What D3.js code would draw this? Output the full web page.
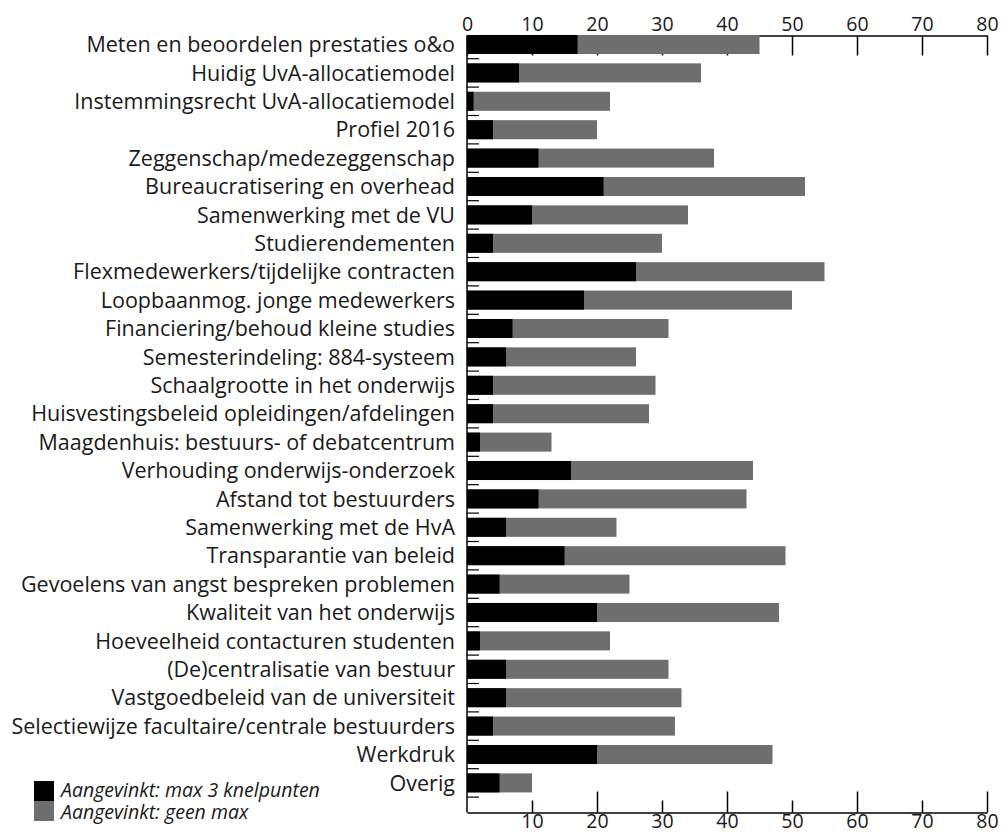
<!DOCTYPE html>
<html>
<head>
<meta charset="utf-8">
<script src="https://cdn.jsdelivr.net/npm/d3@7"></script>
<style>
  body { margin: 0; background: #fff; }
  svg text { font-family: "Open Sans", sans-serif; fill: #1a1a1a; }
</style>
</head>
<body>
<div id="chart"></div>
<script>
// categories, top to bottom
const categories = [
  'Meten en beoordelen prestaties o&o',
  'Huidig UvA-allocatiemodel',
  'Instemmingsrecht UvA-allocatiemodel',
  'Profiel 2016',
  'Zeggenschap/medezeggenschap',
  'Bureaucratisering en overhead',
  'Samenwerking met de VU',
  'Studierendementen',
  'Flexmedewerkers/tijdelijke contracten',
  'Loopbaanmog. jonge medewerkers',
  'Financiering/behoud kleine studies',
  'Semesterindeling: 884-systeem',
  'Schaalgrootte in het onderwijs',
  'Huisvestingsbeleid opleidingen/afdelingen',
  'Maagdenhuis: bestuurs- of debatcentrum',
  'Verhouding onderwijs-onderzoek',
  'Afstand tot bestuurders',
  'Samenwerking met de HvA',
  'Transparantie van beleid',
  'Gevoelens van angst bespreken problemen',
  'Kwaliteit van het onderwijs',
  'Hoeveelheid contacturen studenten',
  '(De)centralisatie van bestuur',
  'Vastgoedbeleid van de universiteit',
  'Selectiewijze facultaire/centrale bestuurders',
  'Werkdruk',
  'Overig'
];

// black bars: max 3 knelpunten
const maxThree = [17, 8, 1, 4, 11, 21, 10, 4, 26, 18, 7, 6, 4, 4, 2, 16, 11, 6, 15, 5, 20, 2, 6, 6, 4, 20, 5];
// grey bars: geen max (drawn from zero, behind the black ones)
const geenMax = [45, 36, 22, 20, 38, 52, 34, 30, 55, 50, 31, 26, 29, 28, 13, 44, 43, 23, 49, 25, 48, 22, 31, 33, 32, 47, 10];

const topTicks = [0, 10, 20, 30, 40, 50, 60, 70, 80];
const bottomTicks = [10, 20, 30, 40, 50, 60, 70, 80];
const legendLabels = ['Aangevinkt: max 3 knelpunten', 'Aangevinkt: geen max'];

const width = 1005;
const height = 835;
const left = 467, right = 987;
const topAxisY = 35.5, bottomAxisY = 812.5;

const svg = d3.select('#chart')
  .append('svg')
  .attr('width', width)
  .attr('height', height);

const x = d3.scaleLinear().domain([0, 80]).range([left, right]);

const y = d3.scaleBand()
  .domain(categories)
  .range([30.3, 30.3 + 27 * 28.4])
  .paddingInner(0.33)
  .paddingOuter(0.165);

// axes first, the bars cover the ticks
const topAxis = svg.append('g')
  .attr('transform', `translate(0,${topAxisY})`)
  .call(d3.axisTop(x).tickValues(topTicks).tickSize(-20).tickSizeOuter(0).tickPadding(5));

// bottom axis, long ticks on the twenties
const bottomAxis = svg.append('g')
  .attr('transform', `translate(0,${bottomAxisY})`)
  .call(d3.axisBottom(x).tickValues(bottomTicks).tickSize(-12).tickSizeOuter(0).tickPadding(2));
bottomAxis.selectAll('.tick line')
  .filter((d) => d % 20 === 0)
  .attr('y2', -21);

[topAxis, bottomAxis].forEach((ax) => {
  ax.select('.domain').attr('stroke', '#000').attr('stroke-width', 1.5);
  ax.selectAll('.tick line').attr('stroke', '#000').attr('stroke-width', 1.5);
  ax.selectAll('.tick text')
    .style('font-size', '19.5px')
    .style('font-family', '"Open Sans", sans-serif')
    .attr('fill', '#1a1a1a');
});

// grey bars
svg.append('g')
  .selectAll('rect')
  .data(categories)
  .join('rect')
  .attr('x', x(0))
  .attr('y', (d) => y(d))
  .attr('width', (d, i) => x(geenMax[i]) - x(0))
  .attr('height', y.bandwidth())
  .attr('fill', '#6e6e6e');

// black bars
svg.append('g')
  .selectAll('rect')
  .data(categories)
  .join('rect')
  .attr('x', x(0))
  .attr('y', (d) => y(d))
  .attr('width', (d, i) => x(maxThree[i]) - x(0))
  .attr('height', y.bandwidth())
  .attr('fill', '#000');

// category labels
svg.append('g')
  .selectAll('text')
  .data(categories)
  .join('text')
  .attr('x', left - 12)
  .attr('y', (d) => y(d) + y.bandwidth() / 2)
  .attr('dy', '0.36em')
  .attr('text-anchor', 'end')
  .style('font-size', '21.5px')
  .text((d) => d);

// left vertical line
svg.append('line')
  .attr('x1', left).attr('x2', left)
  .attr('y1', topAxisY).attr('y2', bottomAxisY)
  .attr('stroke', '#000')
  .attr('stroke-width', 1.5);

// small marks between the bars
svg.append('g')
  .selectAll('line')
  .data(categories)
  .join('line')
  .attr('x1', left).attr('x2', left + 12)
  .attr('y1', (d) => y(d) + y.bandwidth() + y.step() * 0.165)
  .attr('y2', (d) => y(d) + y.bandwidth() + y.step() * 0.165)
  .attr('stroke', '#000')
  .attr('stroke-width', 1.2);

// legend
const legend = svg.append('g').attr('transform', 'translate(34,781)');
legend.selectAll('rect')
  .data(['#000', '#6e6e6e'])
  .join('rect')
  .attr('x', 0)
  .attr('y', (d, i) => i * 20)
  .attr('width', 20)
  .attr('height', 20)
  .attr('fill', (d) => d);
legend.selectAll('text')
  .data(legendLabels)
  .join('text')
  .attr('x', 27)
  .attr('y', (d, i) => 16 + i * 22)
  .style('font-size', '19.5px')
  .style('font-style', 'italic')
  .text((d) => d);
</script>
</body>
</html>
